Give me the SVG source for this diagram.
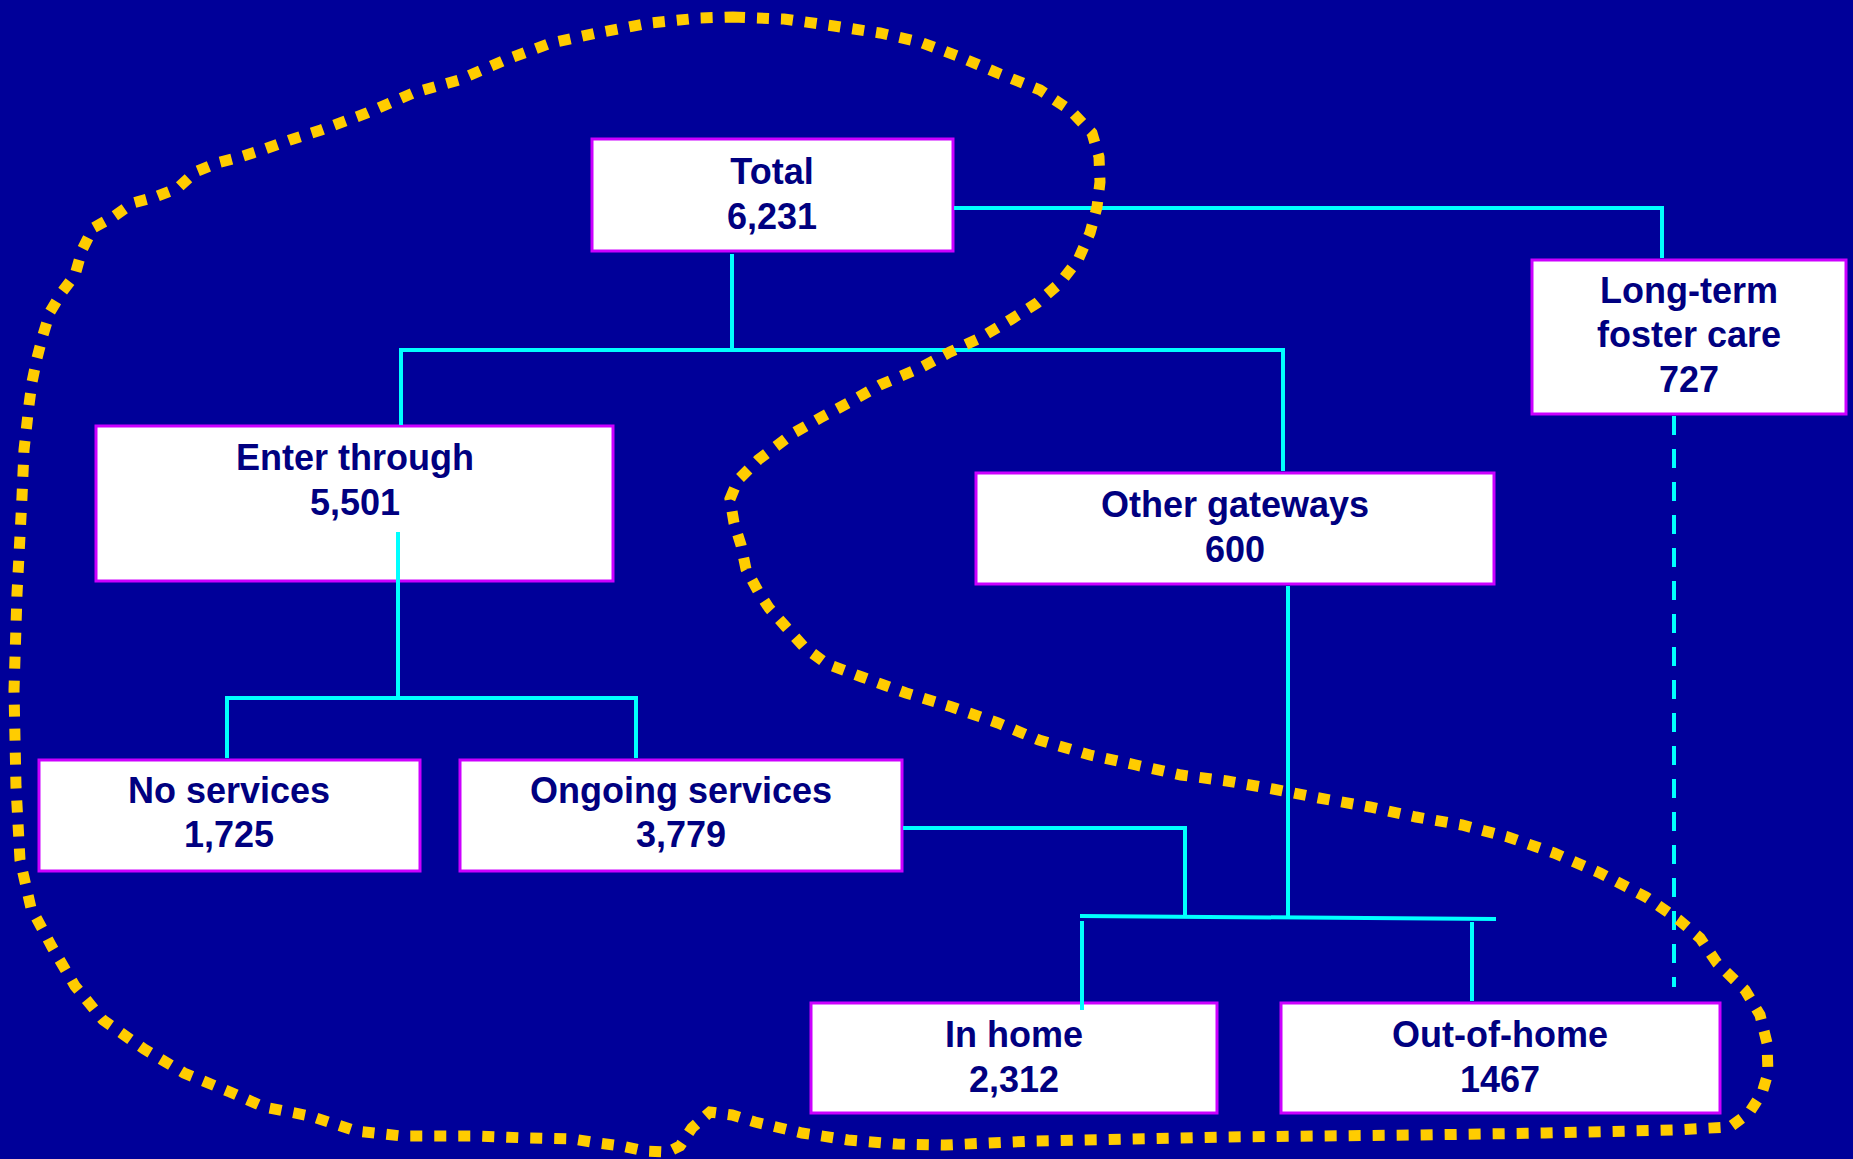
<svg xmlns="http://www.w3.org/2000/svg" width="1853" height="1159" viewBox="0 0 1853 1159">
<style>
.box{fill:#ffffff;stroke:#cc00ff;stroke-width:3}
.lbl{font-family:"Liberation Sans",Arial,sans-serif;font-weight:bold;font-size:36px;fill:#000080;text-anchor:middle}
.con{stroke:#00ffff;stroke-width:4;fill:none}
.loop{stroke:#ffcc00;stroke-width:11;fill:none;stroke-dasharray:12 12}
</style>
<rect width="1853" height="1159" fill="#000099"/>
<g id="total">
<rect class="box" x="592" y="139" width="361" height="112"/>
<text class="lbl" x="772" y="184">Total</text>
<text class="lbl" x="772" y="229">6,231</text>
</g>
<g id="longterm">
<rect class="box" x="1532" y="260" width="314" height="154"/>
<text class="lbl" x="1689" y="303">Long-term</text>
<text class="lbl" x="1689" y="347">foster care</text>
<text class="lbl" x="1689" y="392">727</text>
</g>
<g id="enter">
<rect class="box" x="96" y="426" width="517" height="155"/>
<text class="lbl" x="355" y="470">Enter through</text>
<text class="lbl" x="355" y="515">5,501</text>
</g>
<g id="other">
<rect class="box" x="976" y="473" width="518" height="111"/>
<text class="lbl" x="1235" y="517">Other gateways</text>
<text class="lbl" x="1235" y="562">600</text>
</g>
<g id="noservices">
<rect class="box" x="39" y="760" width="381" height="111"/>
<text class="lbl" x="229" y="803">No services</text>
<text class="lbl" x="229" y="847">1,725</text>
</g>
<g id="ongoing">
<rect class="box" x="460" y="760" width="442" height="111"/>
<text class="lbl" x="681" y="803">Ongoing services</text>
<text class="lbl" x="681" y="847">3,779</text>
</g>
<g id="inhome">
<rect class="box" x="811" y="1003" width="406" height="110"/>
<text class="lbl" x="1014" y="1047">In home</text>
<text class="lbl" x="1014" y="1092">2,312</text>
</g>
<g id="outofhome">
<rect class="box" x="1281" y="1003" width="439" height="110"/>
<text class="lbl" x="1500" y="1047">Out-of-home</text>
<text class="lbl" x="1500" y="1092">1467</text>
</g>
<g id="connectors">
<polyline class="con" points="954,208 1662,208 1662,258"/>
<line class="con" x1="732" y1="254" x2="732" y2="350"/>
<polyline class="con" points="401,425 401,350 1283,350 1283,471"/>
<line class="con" x1="398" y1="532" x2="398" y2="698"/>
<polyline class="con" points="227,758 227,698 636,698 636,758"/>
<polyline class="con" points="903,828 1185,828 1185,918"/>
<line class="con" x1="1288" y1="586" x2="1288" y2="917"/>
<line class="con" x1="1080" y1="916" x2="1496" y2="919" stroke-width="5"/>
<line class="con" x1="1082" y1="921" x2="1082" y2="1010"/>
<line class="con" x1="1472" y1="922" x2="1472" y2="1001"/>
<line class="con" x1="1674" y1="416" x2="1674" y2="987" stroke-dasharray="19 14"/>
</g>
<g id="loop">
<path class="loop" d="M733,17 L784,19 L834,26 L880,33 L920,42 L960,57 L1000,74 L1040,90 L1070,110 L1092,133 L1099,157 L1100,182 L1097,207 L1090,233 L1078,260 L1060,283 L1037,303 L1010,320 L980,338 L950,352 L920,368 L880,385 L850,402 L820,418 L792,434 L758,460 L738,480 L730,499 L734,523 L741,545 L746,569 L758,591 L769,608 L786,627 L804,647 L827,664 L862,677 L906,693 L952,707 L998,723 L1039,740 L1090,755 L1136,765 L1181,775 L1227,781 L1273,789 L1319,798 L1370,807 L1416,817 L1462,825 L1508,837 L1554,853 L1600,873 L1646,897 L1679,920 L1700,938 L1717,963 L1745,990 L1760,1015 L1767,1043 L1768,1073 L1762,1093 L1749,1113 L1730,1127 L1673,1130 L1545,1133 L1418,1135 L1226,1137 L1035,1141 L945,1145 L897,1144 L848,1140 L802,1133 L755,1122 L732,1115 L710,1112 L692,1128 L680,1146 L668,1152 L645,1151 L622,1146 L598,1143 L573,1139 L528,1138 L476,1136 L402,1136 L356,1131 L310,1116 L264,1107 L230,1092 L184,1073 L144,1049 L103,1020 L75,986 L52,947 L31,908 L20,860 L16,787 L14,690 L17,594 L22,497 L24,450 L29,405 L32,382 L37,358 L43,335 L50,312 L62,292 L75,275 L82,250 L93,228 L113,217 L133,203 L155,197 L178,188 L195,172 L217,163 L240,157 L262,150 L290,140 L321,130 L367,113 L413,93 L459,80 L505,60 L551,43 L597,33 L650,23 L700,18 Z"/>
</g>
</svg>
